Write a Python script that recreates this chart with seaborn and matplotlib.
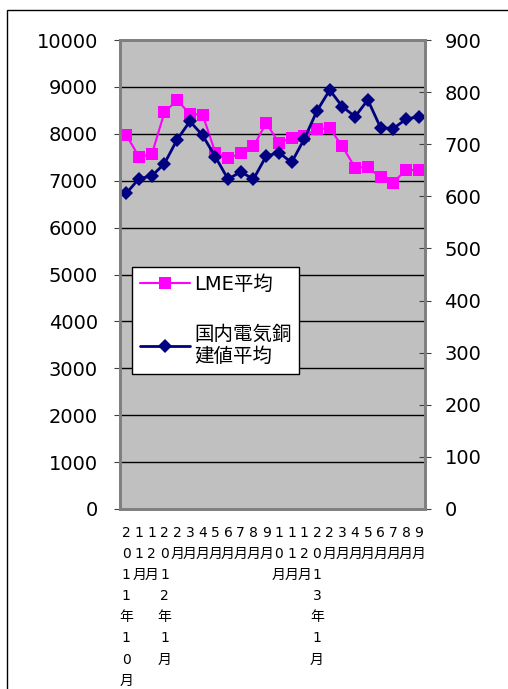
import numpy as np
import pandas as pd
import matplotlib.pyplot as plt
from matplotlib.lines import Line2D
from matplotlib.patches import Rectangle
import seaborn as sns

# months (2011/10 - 2013/9)
months = ["2011年10月", "11月", "12月", "2012年1月", "2月", "3月", "4月", "5月",
          "6月", "7月", "8月", "9月", "10月", "11月", "12月", "2013年1月",
          "2月", "3月", "4月", "5月", "6月", "7月", "8月", "9月"]
# LME average (left axis)
lme = [7970, 7510, 7560, 8460, 8720, 8420, 8410, 7600, 7480, 7580, 7730, 8230,
       7810, 7910, 7960, 8100, 8120, 7730, 7280, 7290, 7070, 6960, 7230, 7230]
# domestic copper price average (right axis)
domestic = [606, 634, 639, 663, 709, 744, 717, 676, 633, 647, 633, 677,
            684, 665, 710, 764, 804, 772, 753, 785, 732, 730, 748, 753]

left_ticks = list(range(0, 10001, 1000))
right_ticks = list(range(0, 901, 100))

sns.set_style("white")
plt.rcParams['font.family'] = ['DejaVu Sans', 'Noto Sans CJK JP']
plt.rcParams['text.color'] = 'black'
plt.rcParams['xtick.labelcolor'] = 'black'
plt.rcParams['ytick.labelcolor'] = 'black'

pos = np.arange(len(months))
df = pd.DataFrame({"pos": pos, "lme": lme, "domestic": domestic})

fig = plt.figure(figsize=(5.08, 6.89), dpi=100)
ax = fig.add_axes([120 / 508, 1 - 509 / 689, 305 / 508, 469 / 689])
ax.set_facecolor('#C0C0C0')

sns.lineplot(data=df, x="pos", y="lme", ax=ax, color='#FF00FF', marker='s',
             markersize=9, markeredgewidth=0, linewidth=1.5, legend=False)
ax.set_ylim(0, 10000)
ax.set_yticks(left_ticks)
ax.yaxis.grid(True, color='black', linewidth=1)
ax.set_axisbelow(True)
ax.set_xlim(-0.5, len(months) - 0.5)
ax.set_xticks(pos)
ax.set_xticklabels(["\n".join(m) for m in months], fontsize=10, linespacing=1.65)
ax.set_xticks(np.arange(-0.5, len(months), 1), minor=True)
ax.tick_params(axis='x', which='major', length=0, pad=12, labelcolor='black')
ax.tick_params(axis='x', which='minor', direction='inout', length=7, color='#404040')
ax.tick_params(axis='y', direction='out', length=4, color='#404040', labelsize=14,
               pad=12, labelcolor='black')
ax.set_xlabel("")
ax.set_ylabel("")

ax2 = ax.twinx()
sns.lineplot(data=df, x="pos", y="domestic", ax=ax2, color='#000080', marker='D',
             markersize=7, markeredgewidth=0, linewidth=2, legend=False)
ax2.set_ylim(0, 900)
ax2.set_yticks(right_ticks)
ax2.tick_params(axis='y', direction='inout', length=8, color='#404040', labelsize=14,
                pad=10, labelcolor='black')
ax2.set_ylabel("")
ax2.set_xlim(-0.5, len(months) - 0.5)

for a in (ax, ax2):
    for s in a.spines.values():
        s.set_color('#808080')
        s.set_linewidth(2)

handles = [Line2D([], [], color='#FF00FF', marker='s', markersize=9, markeredgewidth=0, linewidth=1.5),
           Line2D([], [], color='#000080', marker='D', markersize=7, markeredgewidth=0, linewidth=2)]
leg = ax2.legend(handles, ["LME平均", "国内電気銅\n建値平均"], loc='upper left',
                 bbox_to_anchor=(0.039, 0.516), frameon=True, fancybox=False,
                 edgecolor='black', framealpha=1, fontsize=14, handlelength=2.6,
                 handletextpad=0.2, labelspacing=1.6, borderpad=0.4, borderaxespad=0)
leg.get_frame().set_linewidth(1)
for t in leg.get_texts():
    t.set_color('black')

fig.add_artist(Rectangle((7 / 508, -0.05), 1.2, 1 - 10 / 689 + 0.05,
                         transform=fig.transFigure, fill=False,
                         edgecolor='black', linewidth=1))

fig.savefig('out.png', dpi=100)
